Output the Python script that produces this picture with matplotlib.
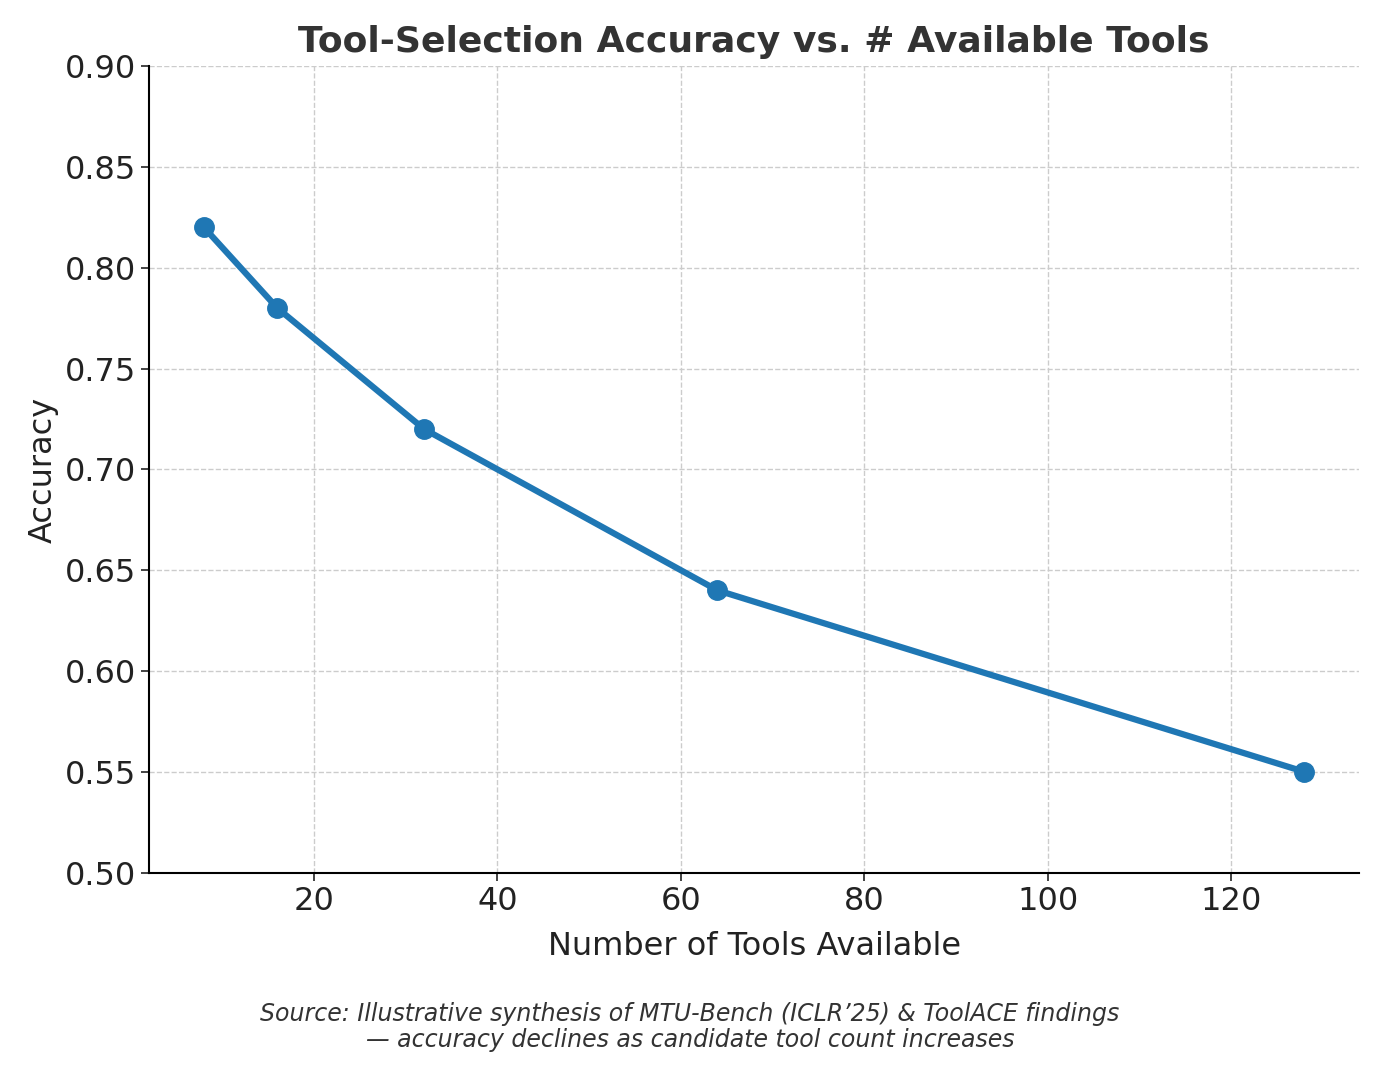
import matplotlib.pyplot as plt

tools = [8, 16, 32, 64, 128]
accuracy = [0.82, 0.78, 0.72, 0.64, 0.55]

fig, ax = plt.subplots(figsize=(13.8, 10.68), dpi=100)
ax.plot(tools, accuracy, marker='o', color='#1f77b4', linewidth=4.5, markersize=14)
ax.set_ylim(0.5, 0.9)
ax.set_xlim(2, 134)
ax.set_title('Tool-Selection Accuracy vs. # Available Tools', fontsize=26,
             fontweight='bold', color='#333333', pad=10)
ax.set_xlabel('Number of Tools Available', fontsize=23, color='#222222', labelpad=10)
ax.set_ylabel('Accuracy', fontsize=23, color='#222222')
ax.tick_params(labelsize=23, length=6, width=1.2, colors='#222222')
ax.grid(True, linestyle='--', color='#cccccc', linewidth=1)
for s in ['top', 'right']:
    ax.spines[s].set_visible(False)
for s in ['left', 'bottom']:
    ax.spines[s].set_linewidth(1.5)

fig.text(0.5, 0.02, 'Source: Illustrative synthesis of MTU-Bench (ICLR’25) & ToolACE findings\n'
         '— accuracy declines as candidate tool count increases',
         ha='center', fontsize=17, style='italic', color='#333333', linespacing=1.1)
fig.subplots_adjust(left=0.108, right=0.985, top=0.938, bottom=0.183)
fig.savefig('out.png')
